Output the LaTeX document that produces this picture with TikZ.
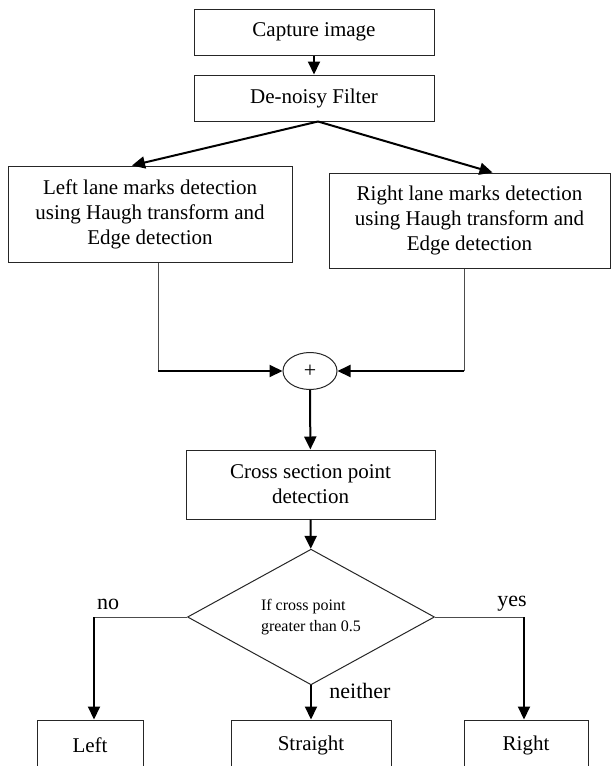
\documentclass[tikz,border=0pt]{standalone}
\usepackage{fontspec}
\setmainfont{Liberation Serif}
\usetikzlibrary{shapes.geometric,arrows.meta,positioning}

\begin{document}
\begin{tikzpicture}[x=1pt,y=-1pt]
		\tikzstyle{Box}		= [rectangle, draw=black!85, line width=1pt, fill=white, align=center, inner sep=0pt, font=\fontsize{21}{25}\selectfont]
		\tikzstyle{Decide}	= [diamond, draw=black!85, line width=1pt, fill=white, align=left, inner sep=0pt, minimum width=247pt, minimum height=96pt, font=\fontsize{16}{21}\selectfont]
		\tikzstyle{Sum}		= [ellipse, draw=black!85, line width=1pt, fill=white, inner sep=0pt, minimum width=54pt, minimum height=37pt, font=\fontsize{22}{22}\selectfont]
		\tikzstyle{Label}	= [inner sep=0pt, font=\fontsize{22}{22}\selectfont]
		\tikzstyle{Flow}	= [line width=2pt, black, -{Triangle[length=13pt,width=12pt]}]
		\tikzstyle{Feed}	= [line width=1pt, black!70]

		\useasboundingbox (0,0) rectangle (611,766);

		\node (capture) at (314, 32) [Box, minimum width=240pt, minimum height=46pt] {Capture image};
		\node (denoise) at (314, 98) [Box, minimum width=240pt, minimum height=46pt] {De-noisy Filter};
		\node (leftlane) at (150, 214) [Box, minimum width=284pt, minimum height=96pt] {Left lane marks detection\\using Haugh transform and\\Edge detection};
		\node (rightlane) at (469.5, 220.5) [Box, minimum width=281pt, minimum height=95pt] {Right lane marks detection\\using Haugh transform and\\Edge detection};
		\node (sum) at (310, 371) [Sum] {+};
		\node (cross) at (310.5, 484.5) [Box, minimum width=249pt, minimum height=69pt] {Cross section point\\detection};
		\node (decide) at (311, 617) [Decide] {If cross point\\greater than 0.5};
		\node (left) at (90, 745) [Box, minimum width=106pt, minimum height=50pt] {Left};
		\node (straight) at (311, 745) [Box, minimum width=160pt, minimum height=50pt] {Straight};
		\node (right) at (526, 745) [Box, minimum width=124pt, minimum height=50pt] {Right};

		\node (no) at (108, 604) [Label] {no};
		\node (yes) at (512, 604) [Label] {yes};
		\node (neither) at (360, 691) [Label] {neither};

		\coordinate (lj) at (158, 371);
		\coordinate (rj) at (464, 371);
		\coordinate (nj) at (94, 617);
		\coordinate (yj) at (524, 617);

		\draw (capture) to (denoise) [Flow];
		\draw ([xshift=4pt]denoise.south) to ([xshift=-18pt]leftlane.north) [Flow];
		\draw ([xshift=4pt]denoise.south) to ([xshift=23pt]rightlane.north) [Flow];

		\draw (leftlane.south -| lj) to (lj) [Feed];
		\draw (rightlane.south -| rj) to (rj) [Feed];
		\draw (lj) to (sum) [Flow];
		\draw (rj) to (sum) [Flow];

		\draw (sum) to (cross) [Flow];
		\draw (cross) to (decide) [Flow];

		\draw (decide.west) to (nj) [Feed];
		\draw (decide.east) to (yj) [Feed];
		\draw (nj) to (nj |- left.north) [Flow];
		\draw (yj) to (yj |- right.north) [Flow];
		\draw (decide.south) to (straight.north) [Flow];
	\end{tikzpicture}
\end{document}
